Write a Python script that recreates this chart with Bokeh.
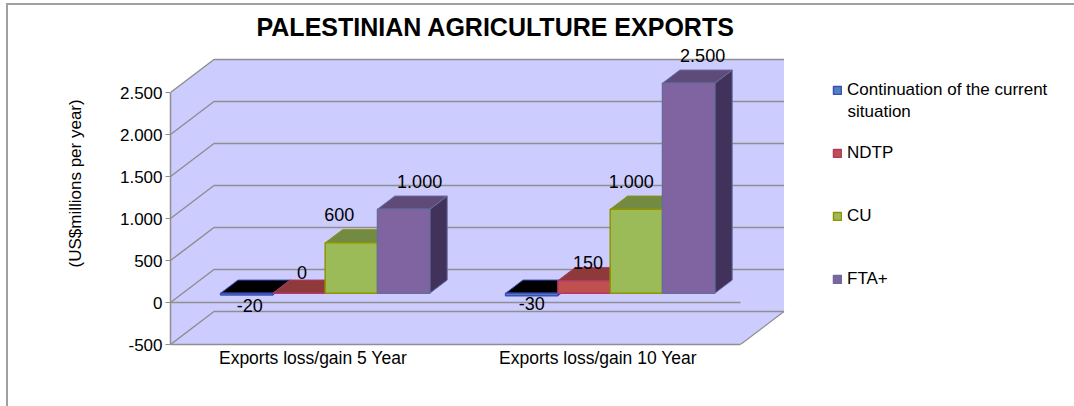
from bokeh.embed import file_html
from bokeh.models import (ColumnDataSource, FixedTicker, Label, Legend,
                          LegendItem, LinearAxis, Range1d, Title)
from bokeh.plotting import figure
from bokeh.resources import INLINE

FONT = "Liberation Sans"

categories = ["Exports loss/gain 5 Year", "Exports loss/gain 10 Year"]
series_names = ["Continuation of the current situation", "NDTP", "CU", "FTA+"]
current_situation = [-20, -30]
ndtp = [0, 150]
cu = [600, 1000]
fta_plus = [1000, 2500]
value_ticks = [-500, 0, 500, 1000, 1500, 2000, 2500]
value_tick_labels = ["-500", "0", "500", "1.000", "1.500", "2.000", "2.500"]
series_values = [current_situation, ndtp, cu, fta_plus]

front_colors = ["#4f81bd", "#c0504d", "#9bbb59", "#8064a2"]
top_colors = ["#000000", "#8e3a3a", "#738a43", "#5f4b79"]
side_colors = ["#2f4d70", "#732f2e", "#5d7035", "#40325a"]
edge_colors = ["#3c4fb8", "#b0386a", "#8f9400", "#6a6a9c"]

# Label nudges in pixels (down is positive), one per series and category.
label_dx = [[3, 0], [3, 4], [-12, -5], [16, 14]]
label_dy = [[12, 10], [-21, -18], [-28, -28], [-28, -28]]

# Pixel scale of the frame and the oblique projection used for depth.
PX_PER_CATEGORY = 285.0
PX_PER_VALUE = 252.0 / 3000.0
DEPTH_X = 43.5 / PX_PER_CATEGORY
DEPTH_Y = 33.0 / PX_PER_VALUE
BAR_W = 52.3 / PX_PER_CATEGORY
FRONT_DEPTH, BACK_DEPTH = 0.28, 0.68

FRAME_W, FRAME_H = 904, 304
LEFT, TOP = 170, 40
WALL_L, WALL_R = -0.5, 1.5
V_MIN, V_MAX = value_ticks[0], value_ticks[-1]


def project(x, v, depth):
    return x + depth * DEPTH_X, v + depth * DEPTH_Y


p = figure(
    width=1074, height=406, output_backend="svg", toolbar_location=None,
    x_range=Range1d(WALL_L, WALL_L + FRAME_W / PX_PER_CATEGORY),
    y_range=Range1d(V_MIN, V_MIN + FRAME_H / PX_PER_VALUE),
    frame_width=FRAME_W, frame_height=FRAME_H,
    min_border_left=LEFT, min_border_right=0, min_border_top=TOP,
    min_border_bottom=406 - TOP - FRAME_H,
    x_axis_location=None, y_axis_location=None, tools="",
    border_fill_alpha=0, background_fill_alpha=0,
)
p.grid.visible = False
p.outline_line_color = None

# Outer chart border: only its top and left edges fall inside the page.
BORDER = "linear-gradient(#a0a0a0,#a0a0a0)"
p.styles = {"background": f"{BORDER} 6px 3px/1068px 2px no-repeat, "
                          f"{BORDER} 6px 3px/2px 403px no-repeat, #ffffff"}

# Walls and floor of the box.
wall_xs = [
    [WALL_L, WALL_L + DEPTH_X, WALL_L + DEPTH_X, WALL_L],
    [WALL_L + DEPTH_X, WALL_R + DEPTH_X, WALL_R + DEPTH_X, WALL_L + DEPTH_X],
    [WALL_L, WALL_R, WALL_R + DEPTH_X, WALL_L + DEPTH_X],
]
wall_ys = [
    [V_MAX, V_MAX + DEPTH_Y, V_MIN + DEPTH_Y, V_MIN],
    [V_MAX + DEPTH_Y, V_MAX + DEPTH_Y, V_MIN + DEPTH_Y, V_MIN + DEPTH_Y],
    [V_MIN, V_MIN, V_MIN + DEPTH_Y, V_MIN + DEPTH_Y],
]
p.patches(wall_xs, wall_ys, fill_color="#ccccff", line_color=None)

# Gridlines run along the left wall, then across the back wall.
grid_xs = [[WALL_L, WALL_L + DEPTH_X, WALL_R + DEPTH_X] for _ in value_ticks]
grid_ys = [[t, t + DEPTH_Y, t + DEPTH_Y] for t in value_ticks]
p.multi_line(grid_xs, grid_ys, line_color="#8f8f8f", line_width=1.5)
p.line([WALL_R, WALL_R + DEPTH_X], [V_MIN, V_MIN + DEPTH_Y], line_color="#8f8f8f", line_width=1.2)
p.line([WALL_L, WALL_R], [0, 0], line_color="#8f8f8f", line_width=1.5)

# Each bar is three faces; series are painted left to right so they overlap.
legend_items = []
offsets = [(i - 1.5) * BAR_W for i in range(4)]
for s, values in enumerate(series_values):
    front, top, side = ([], []), ([], []), ([], [])
    for c, v in enumerate(values):
        x0 = c + offsets[s] - BAR_W / 2
        x1 = x0 + BAR_W
        cap = max(v, 0)
        corners = [
            project(x0, cap, FRONT_DEPTH), project(x1, cap, FRONT_DEPTH),
            project(x1, cap, BACK_DEPTH), project(x0, cap, BACK_DEPTH),
        ]
        top[0].append([q[0] for q in corners])
        top[1].append([q[1] for q in corners])
        fx0, fb = project(x0, min(v, 0), FRONT_DEPTH)
        fx1, ft = project(x1, cap, FRONT_DEPTH)
        front[0].append([fx0, fx1, fx1, fx0])
        front[1].append([fb, fb, ft, ft])
        sx1, sb = project(x1, min(v, 0), BACK_DEPTH)
        st = sb + (ft - fb)
        side[0].append([fx1, sx1, sx1, fx1])
        side[1].append([fb, sb, st, ft])
    p.patches(side[0], side[1], fill_color=side_colors[s], line_color=edge_colors[s], line_width=1)
    p.patches(top[0], top[1], fill_color=top_colors[s], line_color=edge_colors[s], line_width=1)
    r = p.patches(front[0], front[1], fill_color=front_colors[s], line_color=edge_colors[s], line_width=1.5)
    legend_items.append(LegendItem(label=series_names[s] if s else "Continuation of the current", renderers=[r]))

# Value labels above (or below) each bar front.
lx, ly, lt, ldx, ldy = [], [], [], [], []
for s, values in enumerate(series_values):
    for c, v in enumerate(values):
        x, y = project(c + offsets[s], max(v, 0), FRONT_DEPTH)
        lx.append(x)
        ly.append(y)
        lt.append(f"{v:,}".replace(",", "."))
        ldx.append(label_dx[s][c])
        ldy.append(label_dy[s][c])
p.text(x="x", y="y", text="t", x_offset="dx", y_offset="dy",
       source=ColumnDataSource(dict(x=lx, y=ly, t=lt, dx=ldx, dy=ldy)),
       text_font={"value": FONT}, text_font_size="18px", text_color="#000000",
       text_align="center", text_baseline="middle")

# Axes.
yaxis = LinearAxis(
    ticker=FixedTicker(ticks=value_ticks), bounds=(V_MIN, V_MAX),
    major_label_overrides={t: l for t, l in zip(value_ticks, value_tick_labels)},
    axis_line_color="#8f8f8f", axis_line_width=1.5,
    major_tick_line_color="#8f8f8f", major_tick_out=5, major_tick_in=0,
    minor_tick_line_color=None,
    major_label_text_font=FONT, major_label_text_font_size="17px", major_label_text_color="#000000",
    major_label_standoff=3,
)
p.add_layout(yaxis, "left")
xaxis = LinearAxis(
    ticker=FixedTicker(ticks=[0, 1]), bounds=(WALL_L, WALL_R),
    major_label_overrides={i: c for i, c in enumerate(categories)},
    axis_line_color="#8f8f8f", axis_line_width=1.5,
    major_tick_line_color=None, minor_tick_line_color=None,
    major_label_text_font=FONT, major_label_text_font_size="17.5px", major_label_text_color="#000000",
    major_label_standoff=-3,
)
p.add_layout(xaxis, "below")

p.add_layout(Title(text="(US$millions per year)", align="left", vertical_align="top",
                   offset=77, standoff=60,
                   text_font=FONT, text_font_size="17px", text_font_style="normal",
                   text_color="#000000"), "left")
p.add_layout(Title(text="PALESTINIAN AGRICULTURE EXPORTS", align="left", offset=86, standoff=0,
                   text_font=FONT, text_font_size="25px", text_font_style="bold",
                   text_color="#000000"), "above")

legend = Legend(
    items=legend_items, location=(662, 55), orientation="vertical",
    border_line_color=None, background_fill_alpha=0,
    glyph_width=10, glyph_height=10, label_height=16, spacing=43,
    label_text_font=FONT, label_text_font_size="17px", label_text_color="#000000",
    label_standoff=5, margin=0, padding=0,
)
p.add_layout(legend, "center")
p.add_layout(Label(x=847, y=111, x_units="canvas", y_units="canvas",
                   text="situation", text_font=FONT, text_font_size="17px",
                   text_color="#000000", text_baseline="middle"))

open("out.html", "w").write(file_html(p, INLINE))
